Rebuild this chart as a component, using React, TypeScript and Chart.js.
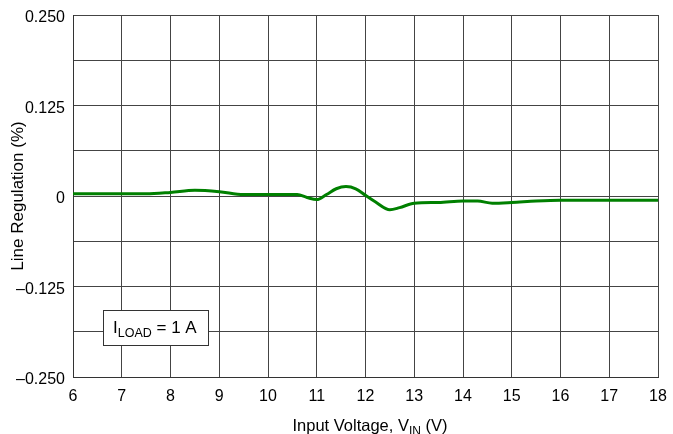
import React, { useEffect, useRef } from "react";
import { Chart, registerables } from "chart.js";

Chart.register(...registerables);

const vin = [6, 6.5, 7, 7.5, 8, 8.5, 9, 9.5, 10, 10.5, 10.6, 10.8, 11, 11.2, 11.4, 11.6, 11.8, 12, 12.2, 12.5, 12.7, 13, 13.5, 14, 14.3, 14.6, 15, 15.5, 16, 16.5, 17, 17.5, 18];
const lineReg = [0.003, 0.003, 0.003, 0.003, 0.005, 0.008, 0.006, 0.002, 0.002, 0.002, 0.002, -0.002, -0.005, 0.002, 0.01, 0.013, 0.01, 0.001, -0.008, -0.019, -0.016, -0.01, -0.009, -0.007, -0.007, -0.01, -0.009, -0.007, -0.006, -0.006, -0.006, -0.006, -0.006];
const yTickLabels: Record<string, string> = {
  "0.25": "0.250",
  "0.125": "0.125",
  "0": "0",
  "-0.125": "\u20130.125",
  "-0.25": "\u20130.250",
};

const FONT = "'Liberation Sans', Arial, sans-serif";

const overlay = {
  id: "overlay",
  afterDraw(chart: any) {
    const ctx = chart.ctx as CanvasRenderingContext2D;
    const { top, bottom } = chart.chartArea;
    ctx.save();
    // label box
    const bx = 103.5, by = 310.5, bw = 105, bh = 35;
    ctx.fillStyle = "#fff";
    ctx.fillRect(bx, by, bw, bh);
    ctx.strokeStyle = "#333";
    ctx.lineWidth = 1;
    ctx.strokeRect(bx, by, bw, bh);
    ctx.fillStyle = "#000";
    ctx.textBaseline = "alphabetic";
    ctx.textAlign = "left";
    let x = 113;
    const base = 332.5;
    ctx.font = `17px ${FONT}`;
    ctx.fillText("I", x, base);
    x += ctx.measureText("I").width;
    ctx.font = `12.5px ${FONT}`;
    ctx.fillText("LOAD", x, base + 4);
    x += ctx.measureText("LOAD").width;
    ctx.font = `17px ${FONT}`;
    ctx.fillText(" = 1 A", x, base);

    // x title
    const parts: [string, boolean][] = [["Input Voltage, V", false], ["IN", true], [" (V)", false]];
    const mainF = `16.5px ${FONT}`;
    const subF = `12px ${FONT}`;
    let total = 0;
    for (const [t, sub] of parts) {
      ctx.font = sub ? subF : mainF;
      total += ctx.measureText(t).width;
    }
    let tx = 370 - total / 2;
    const ty = 431;
    for (const [t, sub] of parts) {
      ctx.font = sub ? subF : mainF;
      ctx.fillText(t, tx, sub ? ty + 4 : ty);
      tx += ctx.measureText(t).width;
    }

    // y title
    ctx.translate(23, (top + bottom) / 2);
    ctx.rotate(-Math.PI / 2);
    ctx.textAlign = "center";
    ctx.font = `17px ${FONT}`;
    ctx.fillText("Line Regulation (%)", 0, 0);
    ctx.restore();
  },
};

export default function App() {
  const ref = useRef<HTMLCanvasElement | null>(null);
  useEffect(() => {
    document.body.style.margin = "0";
    const chart = new Chart(ref.current!, {
      type: "line",
      data: {
        labels: vin,
        datasets: [
          {
            data: vin.map((v, i) => ({ x: v, y: lineReg[i] })),
            borderColor: "#008000",
            borderWidth: 3,
            pointRadius: 0,
            tension: 0.4,
            cubicInterpolationMode: "monotone",
            fill: false,
          },
        ],
      },
      options: {
        animation: false,
        responsive: false,
        layout: { padding: { left: 0, right: 15, top: 15, bottom: 0 } },
        plugins: { legend: { display: false }, tooltip: { enabled: false } },
        scales: {
          x: {
            type: "linear",
            min: 6,
            max: 18,
            afterFit(scale: any) {
              scale.height = 57;
              scale.paddingLeft = 0;
              scale.paddingRight = 0;
            },
            ticks: {
              stepSize: 1,
              color: "#000",
              padding: 10,
              font: { family: FONT, size: 16 },
              maxRotation: 0,
            },
            grid: { color: "#444", lineWidth: 1, drawTicks: false },
            border: { color: "#333", width: 1 },
          },
          y: {
            min: -0.25,
            max: 0.25,
            afterFit(scale: any) {
              scale.width = 73;
              scale.paddingTop = 0;
              scale.paddingBottom = 0;
            },
            afterBuildTicks(scale: any) {
              const t = [];
              for (let i = 0; i <= 8; i++) t.push({ value: -0.25 + i * 0.0625 });
              scale.ticks = t;
            },
            ticks: {
              color: "#000",
              padding: 8,
              labelOffset: 3,
              font: { family: FONT, size: 16 },
              callback: (v: any) => {
                const key = String(Math.round(Number(v) * 10000) / 10000);
                return yTickLabels[key] ?? "";
              },
            },
            grid: { color: "#444", lineWidth: 1, drawTicks: false },
            border: { color: "#333", width: 1 },
          },
        },
      },
      plugins: [overlay],
    } as any);
    return () => chart.destroy();
  }, []);
  return <canvas ref={ref} width={673} height={434} style={{ display: "block" }} />;
}
